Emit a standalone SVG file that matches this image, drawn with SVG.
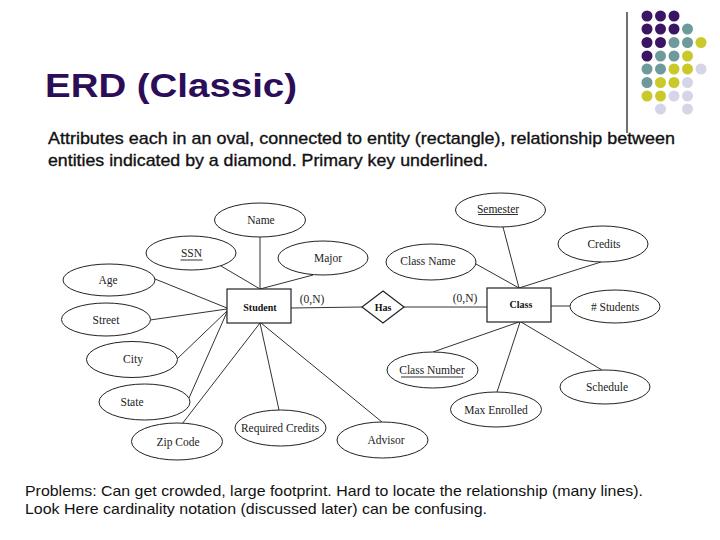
<svg xmlns="http://www.w3.org/2000/svg" width="720" height="540" viewBox="0 0 720 540">
<style>
.attr{fill:#fff;stroke:#222;stroke-width:1}
.ent{fill:#fff;stroke:#222;stroke-width:1.2}
.lbl{font-family:"Liberation Serif","Times New Roman",serif;font-size:11.5px;fill:#222;text-anchor:middle}
.bl{font-family:"Liberation Serif","Times New Roman",serif;font-size:10px;font-weight:bold;fill:#111;text-anchor:middle}
.conn line{stroke:#333;stroke-width:1}
.ul{stroke:#333;stroke-width:1}
.p{fill:#3a1563}.t{fill:#6e9a9b}.y{fill:#c9c92b}.v{fill:#d5d5e7}
.sans{font-family:"Liberation Sans",Arial,sans-serif}
</style>
<rect width="720" height="540" fill="#fff"/>
<g id="decor">
<line x1="627" y1="12" x2="627" y2="133" stroke="#111" stroke-width="1.2"/>
<circle class="p" cx="647" cy="16" r="5.5"/><circle class="p" cx="660.5" cy="16" r="5.5"/><circle class="p" cx="674" cy="16" r="5.5"/>
<circle class="p" cx="647" cy="29" r="5.5"/><circle class="p" cx="660.5" cy="29" r="5.5"/><circle class="p" cx="674" cy="29" r="5.5"/><circle class="t" cx="687.5" cy="29" r="5.5"/>
<circle class="p" cx="647" cy="42.5" r="5.5"/><circle class="p" cx="660.5" cy="42.5" r="5.5"/><circle class="t" cx="674" cy="42.5" r="5.5"/><circle class="t" cx="687.5" cy="42.5" r="5.5"/><circle class="y" cx="701" cy="42.5" r="5.5"/>
<circle class="p" cx="647" cy="56" r="5.5"/><circle class="t" cx="660.5" cy="56" r="5.5"/><circle class="t" cx="674" cy="56" r="5.5"/><circle class="y" cx="687.5" cy="56" r="5.5"/>
<circle class="t" cx="647" cy="69" r="5.5"/><circle class="t" cx="660.5" cy="69" r="5.5"/><circle class="y" cx="674" cy="69" r="5.5"/><circle class="y" cx="687.5" cy="69" r="5.5"/><circle class="v" cx="701" cy="69" r="5.5"/>
<circle class="t" cx="647" cy="82.5" r="5.5"/><circle class="y" cx="660.5" cy="82.5" r="5.5"/><circle class="y" cx="674" cy="82.5" r="5.5"/><circle class="v" cx="687.5" cy="82.5" r="5.5"/>
<circle class="y" cx="647" cy="96" r="5.5"/><circle class="y" cx="660.5" cy="96" r="5.5"/><circle class="v" cx="674" cy="96" r="5.5"/><circle class="v" cx="687.5" cy="96" r="5.5"/>
<circle class="v" cx="660.5" cy="109" r="5.5"/><circle class="v" cx="687.5" cy="109" r="5.5"/>
</g>
<text class="sans" x="45" y="97" font-size="33.5" font-weight="bold" fill="#2c0d58" textLength="252" lengthAdjust="spacingAndGlyphs">ERD (Classic)</text>
<g class="sans" font-size="17" fill="#111" stroke="#111" stroke-width="0.35">
<text x="48" y="144" textLength="627" lengthAdjust="spacingAndGlyphs">Attributes each in an oval, connected to entity (rectangle), relationship between</text>
<text x="48" y="165.5" textLength="440" lengthAdjust="spacingAndGlyphs">entities indicated by a diamond. Primary key underlined.</text>
</g>
<g class="conn">
<line x1="260" y1="237" x2="260" y2="289"/>
<line x1="221" y1="266" x2="260" y2="289"/>
<line x1="313" y1="275" x2="260" y2="289"/>
<line x1="155" y1="279" x2="227" y2="308"/>
<line x1="150" y1="320" x2="227" y2="309"/>
<line x1="177" y1="359" x2="227" y2="311"/>
<line x1="189" y1="398" x2="227" y2="312"/>
<line x1="182" y1="424" x2="260" y2="323"/>
<line x1="279" y1="410" x2="260" y2="323"/>
<line x1="382" y1="422" x2="261" y2="323"/>
<line x1="291" y1="308" x2="362" y2="307"/>
<line x1="404" y1="307" x2="487" y2="307"/>
<line x1="503" y1="227" x2="519" y2="288"/>
<line x1="601" y1="262" x2="519" y2="288"/>
<line x1="476" y1="264" x2="519" y2="288"/>
<line x1="551" y1="306" x2="570" y2="306"/>
<line x1="433" y1="352" x2="519" y2="322"/>
<line x1="497" y1="392" x2="520" y2="322"/>
<line x1="602" y1="370" x2="521" y2="322"/>
</g>
<g id="student"><rect class="ent" x="227" y="289" width="64" height="34"/><text class="bl" x="260" y="311">Student</text></g>
<g id="has"><polygon class="ent" points="383,291 404,307 383,323 362,307"/><text class="bl" x="383" y="310.5">Has</text></g>
<g id="class"><rect class="ent" x="487" y="288" width="64" height="34"/><text class="bl" x="521" y="308">Class</text></g>
<g id="card-left"><text class="lbl" x="312" y="303">(0,N)</text></g>
<g id="card-right"><text class="lbl" x="465" y="302">(0,N)</text></g>
<g id="name"><ellipse class="attr" cx="260" cy="220" rx="45.5" ry="17"/><text class="lbl" x="261" y="224">Name</text></g>
<g id="ssn"><ellipse class="attr" cx="191" cy="253" rx="45" ry="17"/><text class="lbl" x="191.5" y="257">SSN</text><line class="ul" x1="180.5" y1="260" x2="202.5" y2="260"/></g>
<g id="major"><ellipse class="attr" cx="323" cy="258" rx="45" ry="17"/><text class="lbl" x="328" y="262">Major</text></g>
<g id="age"><ellipse class="attr" cx="109" cy="280" rx="46" ry="16"/><text class="lbl" x="108" y="284">Age</text></g>
<g id="street"><ellipse class="attr" cx="106" cy="319.5" rx="44.5" ry="16.5"/><text class="lbl" x="106" y="323.5">Street</text></g>
<g id="city"><ellipse class="attr" cx="132" cy="359.5" rx="45.5" ry="18"/><text class="lbl" x="133" y="363">City</text></g>
<g id="state"><ellipse class="attr" cx="144.5" cy="402" rx="45.5" ry="18"/><text class="lbl" x="132" y="406">State</text></g>
<g id="zipcode"><ellipse class="attr" cx="177" cy="441.5" rx="45.5" ry="18.5"/><text class="lbl" x="178" y="445.5">Zip Code</text></g>
<g id="reqcredits"><ellipse class="attr" cx="280.5" cy="428" rx="45.5" ry="18"/><text class="lbl" x="280" y="432">Required Credits</text></g>
<g id="advisor"><ellipse class="attr" cx="382.5" cy="440" rx="45.5" ry="18"/><text class="lbl" x="386" y="443.5">Advisor</text></g>
<g id="semester"><ellipse class="attr" cx="500.5" cy="210" rx="45" ry="17"/><text class="lbl" x="498" y="213">Semester</text><line class="ul" x1="478" y1="214.5" x2="518" y2="214.5"/></g>
<g id="credits"><ellipse class="attr" cx="603" cy="244" rx="45" ry="18"/><text class="lbl" x="604" y="248">Credits</text></g>
<g id="classname"><ellipse class="attr" cx="431" cy="262" rx="45" ry="18"/><text class="lbl" x="428" y="265">Class Name</text></g>
<g id="numstudents"><ellipse class="attr" cx="615" cy="306.5" rx="45" ry="16.5"/><text class="lbl" x="615" y="310.5"># Students</text></g>
<g id="classnumber"><ellipse class="attr" cx="432.5" cy="370" rx="45.5" ry="18"/><text class="lbl" x="432" y="373.5">Class Number</text><line class="ul" x1="401" y1="377" x2="463" y2="377"/></g>
<g id="maxenrolled"><ellipse class="attr" cx="496" cy="409.5" rx="45.5" ry="17.5"/><text class="lbl" x="496" y="413.5">Max Enrolled</text></g>
<g id="schedule"><ellipse class="attr" cx="605" cy="387" rx="45" ry="17"/><text class="lbl" x="607" y="391">Schedule</text></g>
<g class="sans" font-size="14.5" fill="#111">
<text x="25" y="495.5" textLength="618" lengthAdjust="spacingAndGlyphs">Problems: Can get crowded, large footprint. Hard to locate the relationship (many lines).</text>
<text x="25" y="513.5" textLength="462" lengthAdjust="spacingAndGlyphs">Look Here cardinality notation (discussed later) can be confusing.</text>
</g>
</svg>
